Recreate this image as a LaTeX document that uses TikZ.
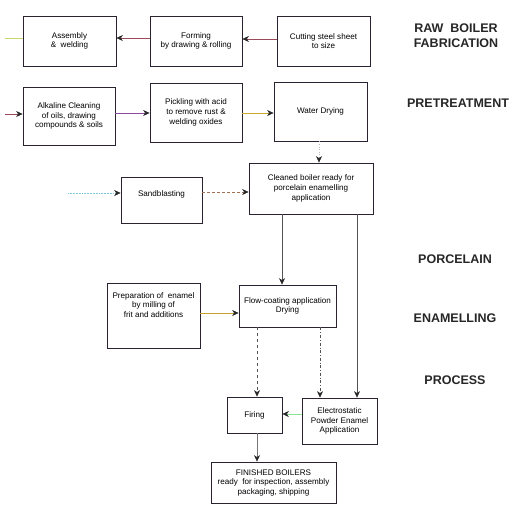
\documentclass[tikz,border=0pt]{standalone}
\usepackage{fontspec}
\setmainfont{Liberation Sans}
\usetikzlibrary{arrows.meta}
\definecolor{boxline}{HTML}{2A2230}
\definecolor{redl}{HTML}{9B4A5A}
\definecolor{ygl}{HTML}{C8D86A}
\definecolor{purl}{HTML}{8A4A9A}
\definecolor{yell}{HTML}{C8A830}
\definecolor{cyanl}{HTML}{7FC8D8}
\definecolor{brownl}{HTML}{A07050}
\definecolor{grayl}{HTML}{555055}
\begin{document}
\begin{tikzpicture}[x=1pt,y=-1pt,
  stepbox/.style={draw=boxline,line width=0.8pt,rectangle,align=center,inner sep=1pt,
    font=\fontsize{8.1}{9.6}\selectfont},
  lbl/.style={font=\fontsize{12.5}{15}\selectfont\bfseries,text=black!85,align=center},
  arr/.style={line width=0.55pt,-{Stealth[length=6.5pt,width=6pt,inset=2pt,color=black!85]}}]
\useasboundingbox (0,0) rectangle (525,522);
% row 1
\node[stepbox,minimum width=93pt,minimum height=50pt] (asm) at (69.5,41) {Assembly\\\&\ \ welding};
\node[stepbox,minimum width=92pt,minimum height=50pt] (form) at (196,41) {Forming\\by drawing \& rolling};
\node[stepbox,minimum width=93pt,minimum height=50pt] (cut) at (323.5,41) {Cutting steel sheet\\to size};
\coordinate (out1) at (5,38);
\draw[arr,redl] (cut.west |- 0,39) -- (form.east |- 0,39);
\draw[arr,redl] (form.west |- 0,38) -- (asm.east |- 0,38);
\draw[line width=0.6pt,ygl] (asm.west |- out1) -- (out1);
% row 2
\node[stepbox,minimum width=92pt,minimum height=58pt] (alk) at (69,116) {Alkaline Cleaning\\of oils, drawing\\compounds \& soils};
\node[stepbox,minimum width=92pt,minimum height=59pt] (pick) at (196,112.5) {Pickling with acid\\to remove rust \&\\welding oxides};
\node[stepbox,minimum width=93pt,minimum height=59pt] (water) at (320.5,111.5) {Water Drying};
\coordinate (in2) at (5,114);
\draw[arr,redl] (in2) -- (alk.west |- in2);
\draw[arr,purl] (alk.east |- 0,113) -- (pick.west |- 0,113);
\draw[arr,yell] (pick.east |- 0,113) -- (water.west |- 0,113);
% row 3
\node[stepbox,minimum width=124pt,minimum height=51pt] (clean) at (311,188.5) {Cleaned boiler ready for\\porcelain enamelling\\application};
\node[stepbox,minimum width=81pt,minimum height=46pt] (sand) at (161.5,200) {Sandblasting\\[4pt]};
\coordinate (in3) at (68,193);
\draw[arr,cyanl,densely dotted] (in3) -- (sand.west |- in3);
\draw[arr,brownl,densely dashed] (sand.east |- 0,192) -- (clean.west |- 0,192);
\draw[arr,grayl!40,dotted] (water.south -| 319,0) -- (clean.north -| 319,0);
% row 4
\node[stepbox,minimum width=97pt,minimum height=42pt] (flow) at (287.5,306) {Flow-coating application\\Drying};
\node[stepbox,minimum width=93pt,minimum height=65pt] (prep) at (153.5,315.5) {Preparation of\ \ enamel\\by milling of\\frit and additions\\[12pt]};
\draw[arr,yell!80!brown] (prep.east |- 0,313) -- (flow.west |- 0,313);
\draw[arr,grayl] (clean.south -| 282,0) -- (flow.north -| 282,0);
% row 5
\node[stepbox,minimum width=55pt,minimum height=36pt] (fire) at (254.5,415) {Firing};
\node[stepbox,minimum width=75pt,minimum height=46pt] (elec) at (339.5,421) {Electrostatic\\Powder Enamel\\Application};
\node[stepbox,minimum width=125pt,minimum height=41pt] (fin) at (273.5,482.5) {\\[-3pt]FINISHED BOILERS\\ready\ \ for inspection, assembly\\packaging, shipping};
\draw[arr,grayl,dashed] (flow.south -| 257,0) -- (fire.north -| 257,0);
\draw[arr,grayl,dash dot] (flow.south -| 320,0) -- (elec.north -| 320,0);
\draw[arr,grayl] (clean.south -| 357,0) -- (elec.north -| 357,0);
\draw[arr,ygl!70!cyan] (elec.west |- 0,414) -- (fire.east |- 0,414);
\draw[arr,grayl!80] (fire.south -| 257,0) -- (fin.north -| 257,0);
% labels
\node[lbl] (l1) at (456,35.5) {RAW\ \ BOILER\\FABRICATION};
\node[lbl] (l2) at (458,103) {PRETREATMENT};
\node[lbl] (l3) at (455,259) {PORCELAIN};
\node[lbl] (l4) at (455,318) {ENAMELLING};
\node[lbl] (l5) at (455,380) {PROCESS};
\end{tikzpicture}
\end{document}
